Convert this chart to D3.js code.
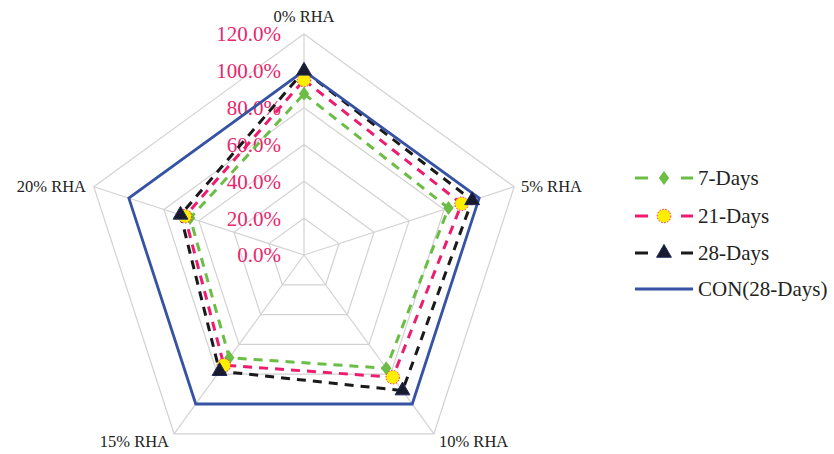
<!DOCTYPE html>
<html><head><meta charset="utf-8">
<script src="https://cdn.jsdelivr.net/npm/d3@7"></script>
<style>body{margin:0;background:#fff}svg{display:block}</style>
</head><body>
<svg id="c" width="834" height="454"></svg>
<script>
const axes = ["0% RHA","5% RHA","10% RHA","15% RHA","20% RHA"];
const ticks = [0,20,40,60,80,100,120];
const seriesNames = ["7-Days","21-Days","28-Days","CON(28-Days)"];
const days7 = [87.5,82.5,76,69,65];
const days21 = [95,90,82,74,68];
const days28 = [100,96,91,78,70.5];
const con28 = [100,100,100,100,100];

const svg = d3.select("#c");
const cx = 304, cy = 255, R = 221;
const r = d3.scaleLinear().domain([0,120]).range([0,R]);
const ang = d3.scaleLinear().domain([0,axes.length]).range([0,2*Math.PI]);
const pt = (i,v)=>[cx + r(v)*Math.sin(ang(i)), cy - r(v)*Math.cos(ang(i))];

const g = svg.append("g");
// grid
ticks.slice(1).forEach(t=>{
  g.append("path").attr("d", d3.line()(axes.map((a,i)=>pt(i,t))) + "Z")
   .attr("fill","none").attr("stroke","#d2d2d2").attr("stroke-width",1.2);
});
axes.forEach((a,i)=>{
  const p = pt(i,120);
  g.append("line").attr("x1",cx).attr("y1",cy).attr("x2",p[0]).attr("y2",p[1])
   .attr("stroke","#d2d2d2").attr("stroke-width",1.2);
});
// tick labels
ticks.forEach(t=>{
  g.append("text").attr("x",281).attr("y",cy - r(t)).attr("dy","0.35em")
   .attr("text-anchor","end").attr("font-family","Liberation Serif")
   .attr("font-size",21).attr("fill","#e8266c").text(t.toFixed(1)+"%");
});
// axis labels
const lab = [
  {x:304,y:16,a:"middle"},
  {x:521,y:186,a:"start"},
  {x:439,y:441,a:"start"},
  {x:169,y:441,a:"end"},
  {x:86,y:186,a:"end"}
];
axes.forEach((a,i)=>{
  g.append("text").attr("x",lab[i].x).attr("y",lab[i].y).attr("dy","0.35em")
   .attr("text-anchor",lab[i].a).attr("font-family","Liberation Serif")
   .attr("font-size",16.5).attr("fill","#222").text(a);
});

const styles = [
  {data:days7, color:"#6cbd45", dash:"9,7", w:3, marker:"diamond"},
  {data:days21, color:"#ee1c6e", dash:"9,7", w:3, marker:"circle"},
  {data:days28, color:"#1a1a1a", dash:"9,7", w:3, marker:"triangle"},
  {data:con28, color:"#3552a4", dash:null, w:2.8, marker:null}
];
const line = d3.line().curve(d3.curveLinearClosed);
styles.forEach(s=>{
  g.append("path").attr("d", line(s.data.map((v,i)=>pt(i,v))))
   .attr("fill","none").attr("stroke",s.color).attr("stroke-width",s.w)
   .attr("stroke-dasharray",s.dash).attr("stroke-linejoin","miter");
});
function marker(sel, type, x, y){
  if(type==="diamond"){
    sel.append("path").attr("d",d3.symbol(d3.symbolDiamond,70)())
      .attr("transform",`translate(${x},${y}) scale(1.15,0.9)`).attr("fill","#6cbd45");
  } else if(type==="circle"){
    sel.append("circle").attr("cx",x).attr("cy",y).attr("r",6.8)
      .attr("fill","#ffee00").attr("stroke","#ee1c6e").attr("stroke-width",1)
      .attr("stroke-dasharray","1.5,1.5");
  } else if(type==="triangle"){
    sel.append("path").attr("d",d3.symbol(d3.symbolTriangle,95)())
      .attr("transform",`translate(${x},${y})`).attr("fill","#1a1a2e")
      .attr("stroke","#1f2a5c").attr("stroke-width",1);
  }
}
styles.forEach(s=>{
  if(!s.marker) return;
  s.data.forEach((v,i)=>{ const p = pt(i,v); marker(g, s.marker, p[0], p[1]); });
});

// legend
const lg = svg.append("g");
const ly = [178,216,253,289];
styles.forEach((s,k)=>{
  const y = ly[k];
  if(s.dash){
    lg.append("line").attr("x1",635).attr("x2",648).attr("y1",y).attr("y2",y)
      .attr("stroke",s.color).attr("stroke-width",3);
    lg.append("line").attr("x1",681).attr("x2",693).attr("y1",y).attr("y2",y)
      .attr("stroke",s.color).attr("stroke-width",3);
    marker(lg, s.marker, 664, y);
  } else {
    lg.append("line").attr("x1",635).attr("x2",693).attr("y1",y).attr("y2",y)
      .attr("stroke",s.color).attr("stroke-width",2.8);
  }
  lg.append("text").attr("x",698).attr("y",y).attr("dy","0.35em")
    .attr("font-family","Liberation Serif").attr("font-size",21)
    .attr("fill","#222").text(seriesNames[k]);
});
</script>
</body></html>
